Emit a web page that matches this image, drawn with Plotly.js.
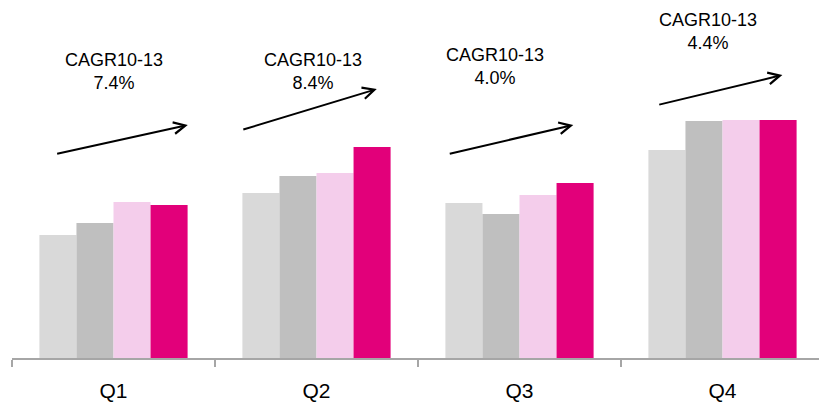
<!DOCTYPE html>
<html>
<head>
<meta charset="utf-8">
<script src="https://cdn.plot.ly/plotly-3.0.1.min.js"></script>
<style>html,body{margin:0;padding:0;background:#fff;}#chart{width:819px;height:406px;}</style>
</head>
<body>
<div id="chart"></div>
<script>
// Data
var categories = ['Q1', 'Q2', 'Q3', 'Q4'];
var series2010 = [123, 165, 155, 208];
var series2011 = [135, 182, 144, 237];
var series2012 = [156, 185, 163, 238];
var series2013 = [153, 211, 175, 238];
var cagrLabels = ['7.4%', '8.4%', '4.0%', '4.4%'];
var cagrTitle = 'CAGR10-13';

// Styling / placement (not data)
var colors = ['#d9d9d9', '#bfbfbf', '#f4cdeb', '#e2007a'];
var names = ['2010', '2011', '2012', '2013'];
var seriesList = [series2010, series2011, series2012, series2013];

var traces = seriesList.map(function (vals, i) {
  return {
    type: 'bar', x: categories, y: vals, name: names[i],
    marker: {color: colors[i], line: {width: 0}},
    hoverinfo: 'skip'
  };
});

// text positions (x in category units, y in axis units)
var textPos = [[0.0, 287], [0.983, 287], [1.878, 292], [2.929, 327]];
// arrows: [tailX, tailY, headX, headY]
var arrowPos = [
  [-0.285, 204, 0.366, 233],
  [0.632, 228, 1.297, 269],
  [1.649, 204, 2.265, 233],
  [2.681, 253, 3.295, 283]
];

var annotations = [];
cagrLabels.forEach(function (lab, i) {
  annotations.push({
    xref: 'x', yref: 'y', x: textPos[i][0], y: textPos[i][1],
    text: cagrTitle + '<br>' + lab, showarrow: false,
    font: {family: 'Liberation Sans, Arial, sans-serif', size: 18, color: '#000'},
    align: 'center', xanchor: 'center', yanchor: 'middle'
  });
  var a = arrowPos[i];
  annotations.push({
    xref: 'x', yref: 'y', axref: 'x', ayref: 'y',
    x: a[2], y: a[3], ax: a[0], ay: a[1],
    text: '', showarrow: true, arrowhead: 5, arrowsize: 1.15, arrowwidth: 2,
    arrowcolor: '#000', standoff: 0, startstandoff: 0
  });
});

var layout = {
  width: 819, height: 406,
  margin: {l: 12, r: 0, t: 0, b: 48, pad: 0},
  paper_bgcolor: '#fff', plot_bgcolor: '#fff',
  showlegend: false,
  barmode: 'group', bargap: 0.27, bargroupgap: 0,
  xaxis: {
    type: 'category', range: [-0.5, 3.5 - 5 / 203],
    showline: true, linecolor: '#a6a6a6', linewidth: 1.5,
    ticks: 'outside', tickson: 'boundaries', ticklen: 7, tickcolor: '#a6a6a6', tickwidth: 1.5,
    showgrid: false, zeroline: false,
    tickfont: {family: 'Liberation Sans, Arial, sans-serif', size: 21, color: '#000'},
    ticklabelstandoff: 13,
    fixedrange: true
  },
  yaxis: {
    range: [0, 358], visible: false, showgrid: false, zeroline: false, fixedrange: true
  },
  annotations: annotations
};

Plotly.newPlot('chart', traces, layout, {staticPlot: true, displayModeBar: false});
</script>
</body>
</html>
